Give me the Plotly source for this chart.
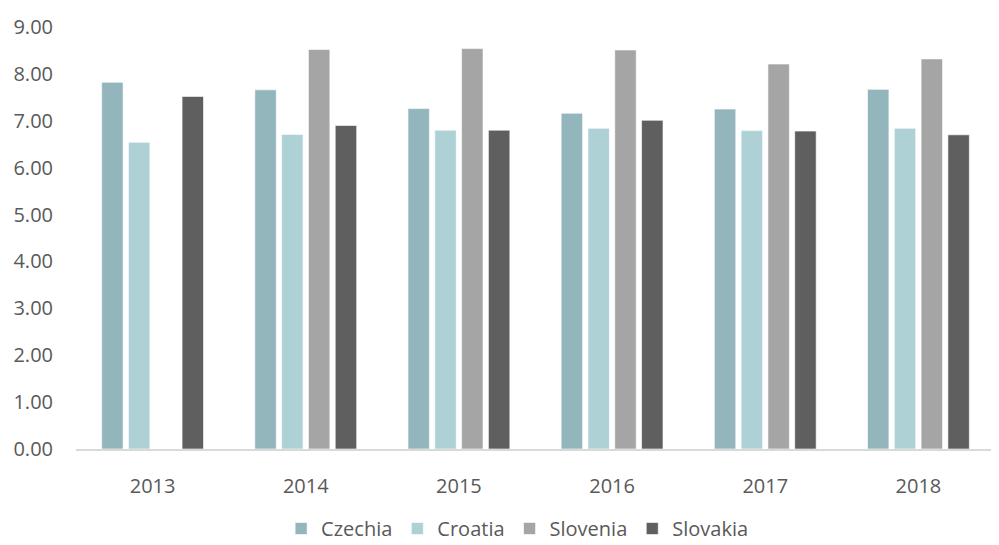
import plotly.graph_objects as go

years = ["2013", "2014", "2015", "2016", "2017", "2018"]
czechia = [7.82, 7.66, 7.26, 7.16, 7.25, 7.67]
croatia = [6.54, 6.71, 6.80, 6.84, 6.79, 6.84]
slovenia = [None, 8.52, 8.54, 8.51, 8.21, 8.32]
slovakia = [7.52, 6.90, 6.80, 7.01, 6.78, 6.70]

series = [
    ("Czechia", czechia, "#93B6BD"),
    ("Croatia", croatia, "#AED1D6"),
    ("Slovenia", slovenia, "#A5A5A5"),
    ("Slovakia", slovakia, "#5F5F5F"),
]

fig = go.Figure()
for name, vals, color in series:
    fig.add_trace(go.Bar(
        x=years, y=vals, name=name,
        marker=dict(color=color, line=dict(color="rgba(255,255,255,0.6)", width=1)),
    ))

# page body has an 8px default margin, so the figure sits 8px in from the top-left
font_family = "Open Sans, Noto Sans, sans-serif"
fig.update_layout(
    width=991, height=540,
    margin=dict(l=68, r=4, t=19, b=99),
    plot_bgcolor="white", paper_bgcolor="white",
    barmode="group", bargap=0.30, bargroupgap=0.2,
    font=dict(family=font_family, size=20, color="#595959"),
    showlegend=True,
    legend=dict(orientation="h", x=0.48, xanchor="center",
                yref="container", y=0.0, yanchor="bottom",
                font=dict(size=20, color="#595959"), itemwidth=30, traceorder="normal"),
    xaxis=dict(showline=True, linecolor="#D9D9D9", linewidth=2, showgrid=False,
               ticks="", ticklabelstandoff=18, automargin=False),
    yaxis=dict(range=[0, 9], dtick=1, tickformat=".2f", showgrid=False,
               zeroline=False, showline=False, ticks="", ticklabelstandoff=22,
               automargin=False),
)

fig.write_html("out.html")
